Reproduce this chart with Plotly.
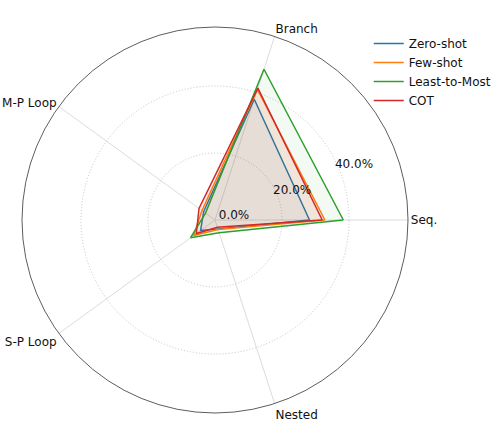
import plotly.graph_objects as go

categories = ["Seq.", "Branch", "M-P Loop", "S-P Loop", "Nested"]
series_names = ["Zero-shot", "Few-shot", "Least-to-Most", "COT"]
zero_shot = [28.2, 37.9, 4.2, 5.3, 2.8]
few_shot = [32.8, 41.0, 4.8, 7.9, 3.0]
least_to_most = [38.3, 47.3, 3.5, 9.0, 4.0]
cot = [32.0, 41.4, 5.9, 6.9, 2.3]
colors = ["#1f77b4", "#ff7f0e", "#2ca02c", "#d62728"]
fills = ["rgba(31,119,180,0.06)", "rgba(255,127,14,0.06)", "rgba(44,160,44,0.06)", "rgba(214,39,40,0.06)"]
radial_ticks = [0, 20, 40]
radial_ticktext = ["0.0%", "20.0%", "40.0%"]
radial_max = 57.6
label_shift = 11.2  # left-aligned tick labels (as matplotlib draws them)

fig = go.Figure()
all_series = [zero_shot, few_shot, least_to_most, cot]
theta = categories + [categories[0]]
for name, vals, c, f in zip(series_names, all_series, colors, fills):
    r = vals + [vals[0]]
    fig.add_trace(go.Scatterpolar(r=r, theta=theta, mode="lines", fill="toself",
                                  fillcolor=f, line=dict(width=0, color=c),
                                  showlegend=False, hoverinfo="skip"))
    fig.add_trace(go.Scatterpolar(r=r, theta=theta, mode="lines", name=name,
                                  line=dict(width=1.5, color=c)))
# label layer for the radial tick labels
fig.add_trace(go.Scatterpolar(r=[None], theta=[categories[0]], subplot="polar2",
                              showlegend=False, hoverinfo="skip"))

W, H = 501, 433
dom = dict(x=[22/W, 408/W], y=[1-413/H, 1-27/H])
dom2 = dict(x=[(22+3)/W, (408+3)/W], y=[1-(413+16)/H, 1-(27+16)/H])
fig.update_layout(
    width=W, height=H,
    margin=dict(l=0, r=0, t=0, b=0),
    paper_bgcolor="white",
    font=dict(family="DejaVu Sans", size=12, color="#111"),
    polar=dict(
        domain=dom,
        bgcolor="white",
        angularaxis=dict(rotation=0, direction="counterclockwise",
                         showline=True, linecolor="#333", linewidth=0.8,
                         gridcolor="#dcdcdc", gridwidth=0.8, ticks="",
                         tickfont=dict(size=12, color="#111")),
        radialaxis=dict(range=[0, radial_max], tickvals=radial_ticks,
                        showticklabels=False, showline=False, ticks="",
                        gridcolor="#c4c4c4", gridwidth=0.8, griddash="1px,2px"),
    ),
    polar2=dict(
        domain=dom2,
        bgcolor="rgba(0,0,0,0)",
        angularaxis=dict(visible=False, rotation=0, direction="counterclockwise"),
        radialaxis=dict(range=[-label_shift, radial_max - label_shift],
                        tickvals=radial_ticks, ticktext=radial_ticktext,
                        angle=22.5, tickangle=22.5, side="counterclockwise",
                        showline=False, showgrid=False, ticks="",
                        tickfont=dict(size=12, color="#111")),
    ),
    legend=dict(x=0.736, y=0.933, xanchor="left", yanchor="top", itemwidth=30,
                font=dict(size=12, color="#111"), tracegroupgap=0,
                bgcolor="rgba(0,0,0,0)"),
)
fig.write_html("out.html", config={"displayModeBar": False},
               post_script="document.body.style.margin='0';")
